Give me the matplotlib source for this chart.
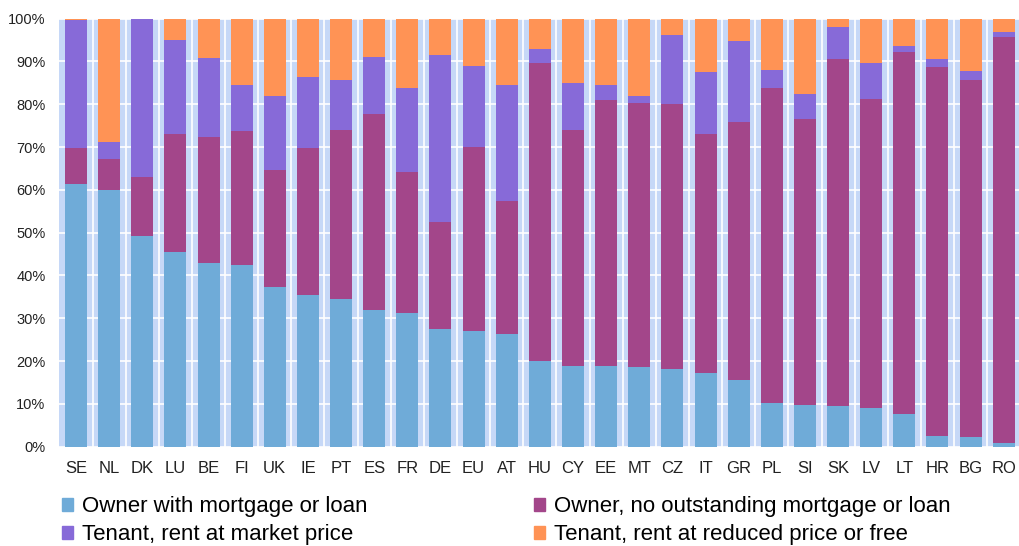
import numpy as np
import matplotlib
matplotlib.use("Agg")
import matplotlib.pyplot as plt
from matplotlib.ticker import PercentFormatter, MultipleLocator
from matplotlib.patches import Patch

plt.rcParams["font.family"] = ["Liberation Sans", "DejaVu Sans"]

countries = ["SE", "NL", "DK", "LU", "BE", "FI", "UK", "IE", "PT", "ES",
             "FR", "DE", "EU", "AT", "HU", "CY", "EE", "MT", "CZ", "IT",
             "GR", "PL", "SI", "SK", "LV", "LT", "HR", "BG", "RO"]

# shares in %
owner_mortgage = [61.4, 59.9, 49.3, 45.6, 42.9, 42.5, 37.4, 35.5, 34.5, 32.0,
                  31.3, 27.4, 27.1, 26.3, 20.1, 18.9, 18.9, 18.6, 18.1, 17.3,
                  15.6, 10.1, 9.7, 9.4, 9.0, 7.7, 2.6, 2.3, 0.9]
owner_outright = [8.4, 7.2, 13.8, 27.4, 29.4, 31.2, 27.2, 34.3, 39.6, 45.7,
                  32.9, 25.2, 42.9, 31.0, 69.5, 55.1, 62.2, 61.8, 62.0, 55.7,
                  60.2, 73.8, 66.8, 81.1, 72.2, 84.6, 86.0, 83.4, 94.8]
tenant_market = [29.9, 4.1, 36.9, 22.0, 18.5, 10.7, 17.4, 16.5, 11.5, 13.3,
                 19.6, 39.0, 19.0, 27.2, 3.3, 11.0, 3.3, 1.6, 16.1, 14.5,
                 19.0, 4.2, 5.8, 7.6, 8.4, 1.4, 2.0, 2.0, 1.3]
tenant_reduced = [0.3, 28.8, 0.0, 5.0, 9.2, 15.6, 18.0, 13.7, 14.4, 9.0,
                  16.2, 8.4, 11.0, 15.5, 7.1, 15.0, 15.6, 18.0, 3.8, 12.5,
                  5.2, 11.9, 17.7, 1.9, 10.4, 6.3, 9.4, 12.3, 3.0]

labels = ["Owner with mortgage or loan",
          "Owner, no outstanding mortgage or loan",
          "Tenant, rent at market price",
          "Tenant, rent at reduced price or free"]
colors = ["#6fabd8", "#a3468a", "#876ad8", "#ff9355"]

fig = plt.figure(figsize=(10.19, 5.46), dpi=100)
ax = fig.add_axes([0.0583, 0.1819, 0.943, 0.7839])
ax.set_facecolor("#c6d8f7")

x = np.arange(len(countries))
series = [owner_mortgage, owner_outright, tenant_market, tenant_reduced]
bottom = np.zeros(len(countries))
for vals, col in zip(series, colors):
    vals = np.array(vals)
    ax.bar(x, vals, width=0.664, bottom=bottom, color=col, zorder=3)
    bottom += vals

ax.set_xlim(-0.5, len(countries) - 0.5)
ax.set_ylim(0, 100)
ax.yaxis.set_major_locator(MultipleLocator(10))
ax.yaxis.set_major_formatter(PercentFormatter(decimals=0))
ax.set_xticks(x)
ax.set_xticklabels(countries, fontsize=12)
ax.set_xticks(x[:-1] + 0.5, minor=True)
ax.tick_params(axis="y", labelsize=10.5, length=0, pad=10, labelcolor="#222222")
ax.tick_params(axis="x", which="both", length=0, pad=10, labelcolor="#222222")

ax.grid(axis="y", which="major", color="white", linewidth=1.2)
ax.grid(axis="x", which="minor", color="white", linewidth=1.2)
ax.set_axisbelow(True)
for s in ax.spines.values():
    s.set_visible(False)

# legend: two rows, two columns
handles = [Patch(color=c) for c in colors]
order = [0, 2, 1, 3]
fig.legend([handles[i] for i in order], [labels[i] for i in order],
           ncol=2, loc="lower left", bbox_to_anchor=(0.041, -0.035),
           frameon=False, fontsize=16, handlelength=0.5, handleheight=0.5,
           handletextpad=0.4, columnspacing=7.5, labelspacing=0.3)

fig.savefig("out.png", dpi=100)
